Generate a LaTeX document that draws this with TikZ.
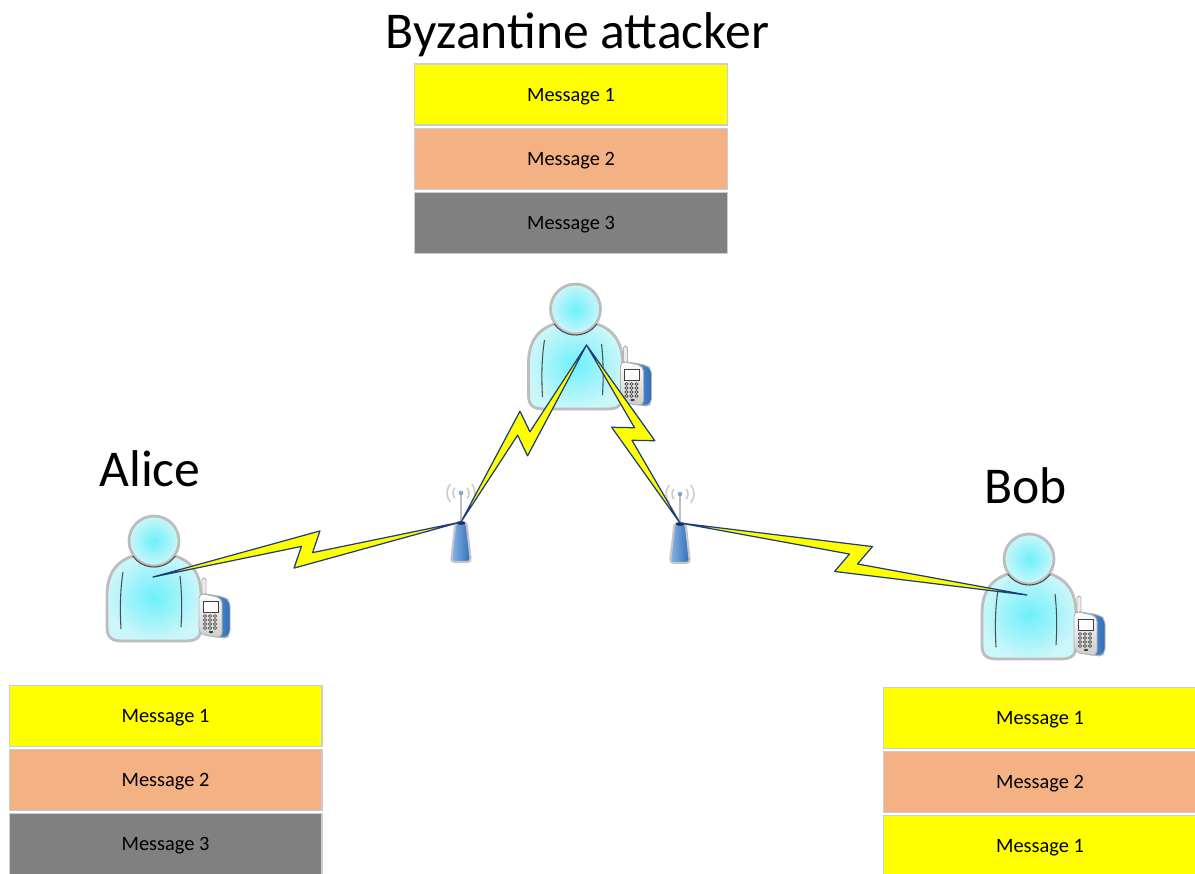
\documentclass[tikz,border=0pt]{standalone}
\usepackage{fontspec}
\setmainfont{Carlito}
\usetikzlibrary{positioning,calc}
\definecolor{msgYellow}{HTML}{FFFF00}
\definecolor{msgSalmon}{HTML}{F4B183}
\definecolor{msgGray}  {HTML}{808080}
\definecolor{msgRim}   {HTML}{C9CED6}
\definecolor{userCyan} {HTML}{6DF0FA}
\definecolor{userPale} {HTML}{CBF6FA}
\definecolor{userRim}  {HTML}{BDBDBD}
\definecolor{userLine} {HTML}{4D4D4D}
\definecolor{apBlue}   {HTML}{2F6DB8}
\definecolor{apBlueLt} {HTML}{86B4E8}
\definecolor{boltFill} {HTML}{FFFF00}
\definecolor{boltEdge} {HTML}{1F3D78}

% zig-zag radio link between two named points
\newcommand{\radiolink}[2]{%
  \coordinate (zm) at ($(#1)!.5!(#2)$);
  \filldraw[link] (#1) -- ($(zm)!0.453cm!45:(#2)$) -- ($(zm)!0.128cm!-39:(#2)$) -- (#2)
    -- ($(zm)!0.453cm!225:(#2)$) -- ($(zm)!0.128cm!141:(#2)$) -- cycle;}

\tikzset{
  % person with a handset, origin at the centre of the head
  user/.pic={
    \shade[inner color=userCyan, outer color=userPale, draw=userRim, line width=1.6pt]
      (0,12) .. controls (-28,12) and (-47,24) .. (-47,54) -- (-47,86)
      .. controls (-47,97) and (-42,100) .. (-31,100) -- (31,100)
      .. controls (42,100) and (47,97) .. (47,86) -- (47,54)
      .. controls (47,24) and (28,12) .. (0,12) -- cycle;
    \draw[userLine, line width=0.6pt] (-31,31) .. controls (-34,50) and (-34,70) .. (-33,88);
    \draw[userLine, line width=0.6pt] (26,35) .. controls (28,52) and (28,70) .. (27,86);
    \shade[inner color=userCyan, outer color=userPale, draw=userRim, line width=1.6pt] (0,0) circle (25);
    \draw[userLine, line width=0.6pt] (0,0) ++(35:26) arc[start angle=35, end angle=145, radius=26];
    % handset
    \draw[gray!60, fill=gray!15, line width=0.5pt, rounded corners=1pt] (48,37) rectangle (52,54);
    \shade[left color=apBlueLt, right color=apBlue, draw=gray!60, line width=0.5pt, rounded corners=3pt]
      (46,52) -- (70,56) -- (76,60) -- (76,95) -- (70,97) -- (46,93) -- cycle;
    \shade[top color=white, bottom color=gray!40, draw=gray!60, line width=0.5pt, rounded corners=3pt]
      (45,52) -- (68,57) -- (68,97) -- (45,93) -- cycle;
    \draw[black!75, fill=white, line width=0.5pt] (49,60) rectangle (64,71);
    \foreach \kx in {0,1,2}
      \foreach \ky in {0,...,3}
        \draw[black!75, fill=white, line width=0.4pt] (51+\kx*5,75+\ky*4) ellipse (1.7 and 1.4);
    \fill[black!75] (57,91) ellipse (2.2 and 1.1);
    \coordinate (-link) at (#1,36);
  },
  % access point, origin at the top of the mast base
  ap/.pic={
    \draw[gray!50, line width=0.8pt] (0,0) -- (0,-28);
    \fill[apBlueLt!70!gray] (0,-29) circle (2.3);
    \foreach \r in {8,14} {
      \draw[gray!40, line width=0.9pt] (0,-29) ++(140:\r) arc[start angle=140, end angle=220, radius=\r];
      \draw[gray!40, line width=0.9pt] (0,-29) ++(-40:\r) arc[start angle=-40, end angle=40, radius=\r];
    }
    \shade[left color=apBlueLt, right color=apBlue, draw=gray!45, line width=1.2pt, rounded corners=2pt]
      (-5.5,0) -- (5.5,0) -- (10,40) -- (-10,40) -- cycle;
    \fill[boltEdge!70!black] (0,1) ellipse (4.5 and 1.8);
    \coordinate (-top) at (0,0);
  }
}

\begin{document}
\begin{tikzpicture}[x=0.02cm, y=-0.02cm,
    cell/.style={draw=msgRim, line width=0.6pt, minimum width=6.26cm, minimum height=1.22cm,
                 inner sep=0, text depth=0pt, font=\fontsize{11.6}{14}\selectfont},
    big/.style={anchor=base, inner sep=0, font=\fontsize{29.4}{35}\selectfont},
    link/.style={fill=boltFill, draw=boltEdge, line width=0.7pt, line join=round}]
  \useasboundingbox (0,0) rectangle (1195,873);
  \clip (0,0) rectangle (1195,873);

  % message stacks
  \node[cell, fill=msgYellow] (e1) at (571,94.5) {Message 1};
  \node[cell, fill=msgSalmon, below=0.04cm of e1] (e2) {Message 2};
  \node[cell, fill=msgGray,   below=0.04cm of e2] (e3) {Message 3};

  \node[cell, fill=msgYellow] (a1) at (165.5,716) {Message 1};
  \node[cell, fill=msgSalmon, below=0.04cm of a1] (a2) {Message 2};
  \node[cell, fill=msgGray,   below=0.04cm of a2] (a3) {Message 3};

  \node[cell, fill=msgYellow] (b1) at (1040,718) {Message 1};
  \node[cell, fill=msgSalmon, below=0.04cm of b1] (b2) {Message 2};
  \node[cell, fill=msgYellow, below=0.04cm of b2] (b3) {Message 1};

  \node[big] (evename)   at (577.5,48) {Byzantine attacker};
  \node[big] (alicename) at (150,486)  {Alice};
  \node[big] (bobname)   at (1025.5,503) {Bob};

  % users and access points
  \pic (eve)   at (575.5,309) {user=11};
  \pic (alice) at (154,541)   {user=-1};
  \pic (bob)   at (1029,559)  {user=-2};
  \pic (apl) at (461,522) {ap};
  \pic (apr) at (680,523) {ap};

  % wireless hops
  \radiolink{alice-link}{apl-top}
  \radiolink{eve-link}{apl-top}
  \radiolink{eve-link}{apr-top}
  \radiolink{bob-link}{apr-top}
\end{tikzpicture}
\end{document}
